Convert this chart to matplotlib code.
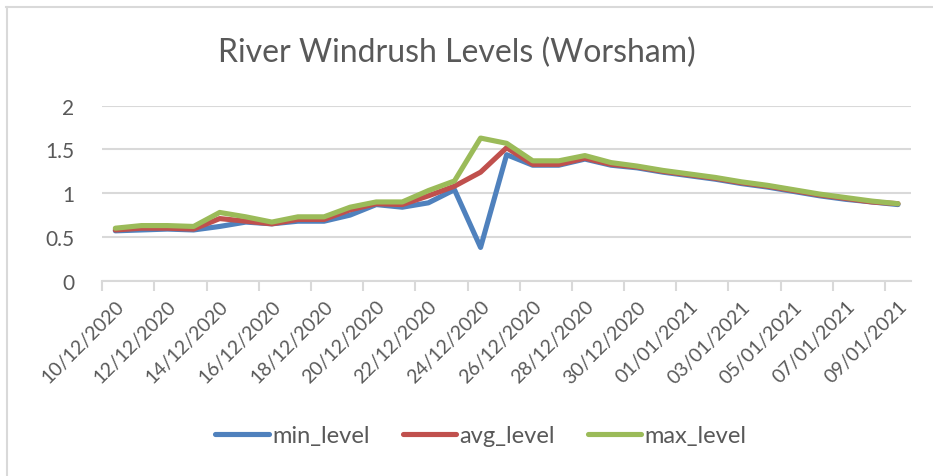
import numpy as np
import pandas as pd
import matplotlib
matplotlib.use("Agg")
import matplotlib.pyplot as plt
from matplotlib.lines import Line2D

plt.rcParams['font.family'] = ['Lato', 'DejaVu Sans']

dates = pd.date_range('2020-12-10', periods=31).strftime('%d/%m/%Y').tolist()

min_level = [0.57, 0.58, 0.59, 0.58, 0.62, 0.67, 0.65, 0.68, 0.68, 0.75, 0.87,
             0.84, 0.89, 1.04, 0.38, 1.44, 1.32, 1.32, 1.39, 1.32, 1.29, 1.24,
             1.20, 1.16, 1.11, 1.07, 1.02, 0.97, 0.93, 0.90, 0.87]
avg_level = [0.58, 0.60, 0.60, 0.59, 0.71, 0.68, 0.65, 0.70, 0.70, 0.81, 0.88,
             0.87, 0.97, 1.08, 1.24, 1.52, 1.33, 1.33, 1.40, 1.33, 1.30, 1.25,
             1.21, 1.17, 1.12, 1.08, 1.03, 0.98, 0.94, 0.90, 0.88]
max_level = [0.60, 0.63, 0.63, 0.62, 0.78, 0.73, 0.67, 0.73, 0.73, 0.84, 0.90,
             0.90, 1.03, 1.14, 1.63, 1.57, 1.37, 1.37, 1.43, 1.35, 1.31, 1.26,
             1.22, 1.18, 1.13, 1.09, 1.04, 0.99, 0.95, 0.91, 0.88]

series = [('min_level', min_level, '#4F81BD'),
          ('avg_level', avg_level, '#C0504D'),
          ('max_level', max_level, '#9BBB59')]

W, H = 933, 477
fig = plt.figure(figsize=(W / 100, H / 100), dpi=100)
ax = fig.add_axes([102.3 / W, 1 - 281.7 / H, (911 - 102.3) / W, (281.7 - 106.7) / H])

x = np.arange(len(dates))
for name, vals, col in series:
    ax.plot(x, vals, color=col, lw=3.7, label=name,
            solid_joinstyle='round', solid_capstyle='round')

grey = '#D9D9D9'
txt = '#595959'
ax.set_xlim(-0.5, len(dates) - 0.5)
ax.set_ylim(0, 2)
ax.set_yticks([0, 0.5, 1, 1.5, 2])
ax.set_yticklabels(['0', '0.5', '1', '1.5', '2'])
ax.yaxis.grid(True, color=grey, lw=1.5)
ax.set_axisbelow(True)
ax.tick_params(axis='y', length=0, pad=20, labelsize=15, labelcolor=txt)

# tick marks between categories, labels on every other category
ax.set_xticks(np.arange(-0.5, len(dates) - 0.5, 2))
ax.set_xticklabels([])
ax.set_xticks(x[::2], minor=True)
ax.set_xticklabels(dates[::2], minor=True, rotation=45, ha='right',
                   rotation_mode='anchor')
ax.tick_params(axis='x', which='major', length=7, width=1.5, color=grey)
ax.tick_params(axis='x', which='minor', length=0, pad=12, labelsize=14,
               labelcolor=txt)

for s in ['top', 'right', 'left']:
    ax.spines[s].set_visible(False)
ax.spines['bottom'].set_color(grey)
ax.spines['bottom'].set_linewidth(1.5)

fig.text(457 / W, 1 - 53 / H, 'River Windrush Levels (Worsham)', ha='center',
         va='center', fontsize=23, color=txt)

fig.legend(loc='center', bbox_to_anchor=(481 / W, 1 - 437 / H), ncol=3,
           frameon=False, fontsize=17, handlelength=2.25, handletextpad=0.15,
           columnspacing=1.4, labelcolor=txt)

# chart area border (left and top edges visible)
fig.add_artist(Line2D([6.5 / W, 6.5 / W], [0, 1 - 8 / H], color=grey, lw=1.5,
                      transform=fig.transFigure))
fig.add_artist(Line2D([6 / W, 1], [1 - 8 / H, 1 - 8 / H], color=grey, lw=1.5,
                      transform=fig.transFigure))

fig.savefig('out.png', dpi=100)
